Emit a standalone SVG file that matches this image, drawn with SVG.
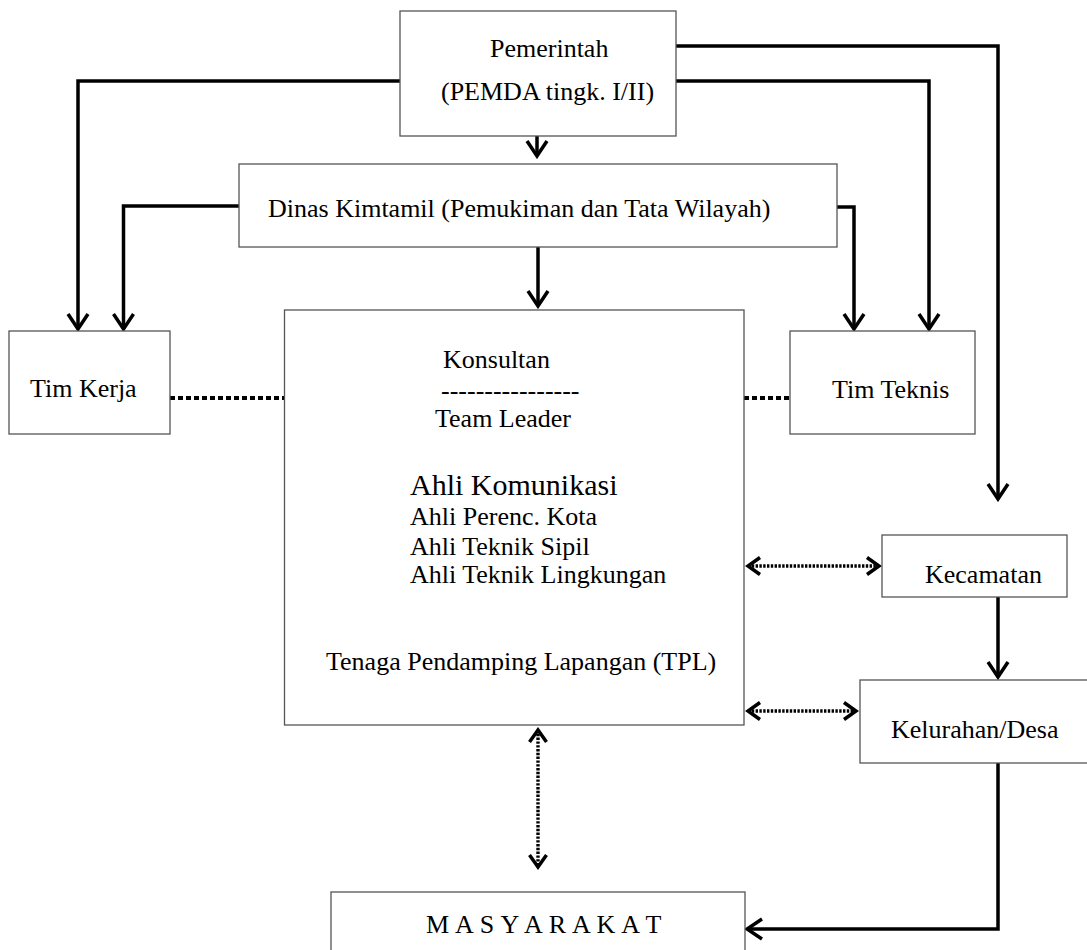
<svg xmlns="http://www.w3.org/2000/svg" width="1087" height="950" viewBox="0 0 1087 950">
<style>
.box{fill:#fff;stroke:#555;stroke-width:1.3}
.t{font-family:"Liberation Serif","Times New Roman",serif;font-size:26px;fill:#000}
.c{fill:none;stroke:#000;stroke-width:3.5}
.d{fill:none;stroke:#000;stroke-width:4;stroke-dasharray:5 3}
.dd{fill:none;stroke:#000;stroke-width:3.4;stroke-dasharray:2.4 1.4}
</style>
<defs>
<marker id="ah" markerUnits="userSpaceOnUse" viewBox="-18 -13 21 26" markerWidth="21" markerHeight="26" refX="0" refY="0" orient="auto">
<path d="M-15,-10 L0,0 L-15,10" fill="none" stroke="#000" stroke-width="3.5"/>
</marker>
<marker id="ah2" markerUnits="userSpaceOnUse" viewBox="-16 -11 19 22" markerWidth="19" markerHeight="22" refX="0" refY="0" orient="auto-start-reverse">
<path d="M-12,-8.5 L0,0 L-12,8.5" fill="none" stroke="#000" stroke-width="3.5"/>
</marker>
</defs>
<rect width="1087" height="950" fill="#fff"/>
<g id="connectors">
<path class="c" d="M400,81 H78 V329" marker-end="url(#ah)"/>
<path class="c" d="M537,136 V156" marker-end="url(#ah)"/>
<path class="c" d="M676,46 H998 V499" marker-end="url(#ah)"/>
<path class="c" d="M676,81 H929 V329" marker-end="url(#ah)"/>
<path class="c" d="M239,206 H123.5 V329" marker-end="url(#ah)"/>
<path class="c" d="M837,207 H854 V329" marker-end="url(#ah)"/>
<path class="c" d="M538,247 V306" marker-end="url(#ah)"/>
<path class="c" d="M998,597 V677" marker-end="url(#ah)"/>
<path class="c" d="M998,763 V929 H747" marker-end="url(#ah)"/>
<path class="d" d="M170,398 H284"/>
<path class="d" d="M744,398 H790"/>
<path class="dd" d="M748,566 H879" marker-start="url(#ah2)" marker-end="url(#ah2)"/>
<path class="dd" d="M748,711 H856" marker-start="url(#ah2)" marker-end="url(#ah2)"/>
<path class="dd" d="M538,730 V867" marker-start="url(#ah2)" marker-end="url(#ah2)"/>
</g>
<g id="pemerintah">
<rect class="box" x="400" y="11" width="276" height="125"/>
<text class="t" x="490" y="57">Pemerintah</text>
<text class="t" x="441" y="100">(PEMDA tingk. I/II)</text>
</g>
<g id="dinas">
<rect class="box" x="239" y="164" width="598" height="83"/>
<text class="t" x="268" y="217">Dinas Kimtamil (Pemukiman dan Tata Wilayah)</text>
</g>
<g id="timkerja">
<rect class="box" x="9" y="331" width="161" height="103"/>
<text class="t" x="30" y="397">Tim Kerja</text>
</g>
<g id="timteknis">
<rect class="box" x="790" y="331" width="185" height="103"/>
<text class="t" x="832" y="398">Tim Teknis</text>
</g>
<g id="konsultan">
<rect class="box" x="284.5" y="310" width="459.5" height="415"/>
<text class="t" x="443" y="368">Konsultan</text>
<text class="t" x="441" y="399">----------------</text>
<text class="t" x="435" y="427">Team Leader</text>
<text class="t" x="410" y="495" style="font-size:30px">Ahli Komunikasi</text>
<text class="t" x="410" y="525">Ahli Perenc. Kota</text>
<text class="t" x="410" y="555">Ahli Teknik Sipil</text>
<text class="t" x="410" y="583">Ahli Teknik Lingkungan</text>
<text class="t" x="326" y="670">Tenaga Pendamping Lapangan (TPL)</text>
</g>
<g id="kecamatan">
<rect class="box" x="882" y="535" width="185" height="62"/>
<text class="t" x="925" y="583">Kecamatan</text>
</g>
<g id="kelurahan">
<rect class="box" x="860" y="680" width="240" height="83"/>
<text class="t" x="891" y="738">Kelurahan/Desa</text>
</g>
<g id="masyarakat">
<rect class="box" x="331" y="892" width="414" height="80"/>
<text class="t" x="426" y="933" style="letter-spacing:0.4px">M A S Y A R A K A T</text>
</g>
</svg>
